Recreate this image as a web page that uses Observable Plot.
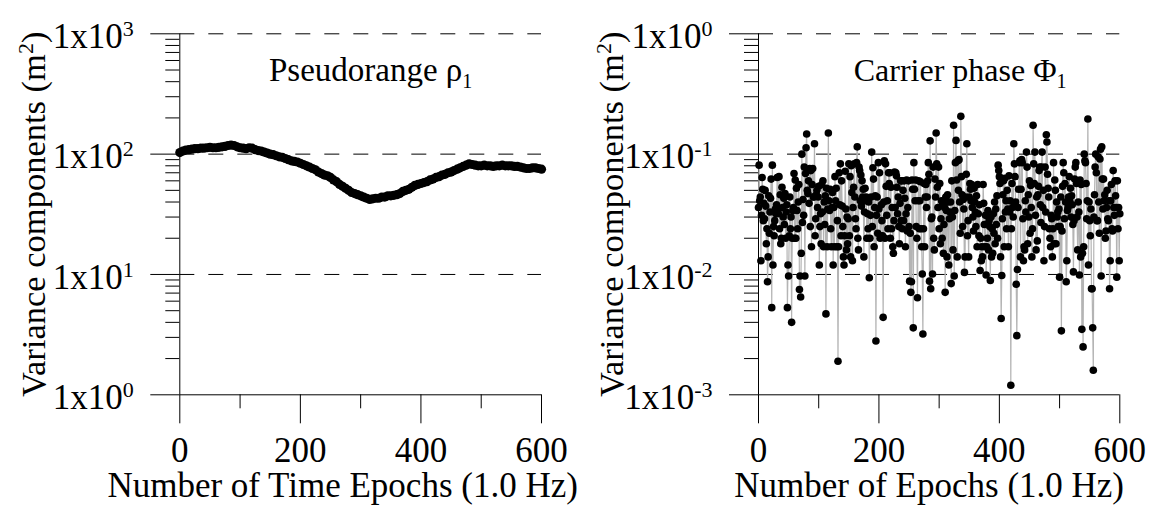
<!DOCTYPE html>
<html><head><meta charset="utf-8">
<script src="https://cdn.jsdelivr.net/npm/d3@7"></script>
<script src="https://cdn.jsdelivr.net/npm/@observablehq/plot@0.6"></script>
<style>
body{margin:0;background:#fff;}
#wrap{display:flex;width:1149px;height:516px;overflow:hidden;background:#fff;}
svg text{font-family:"Liberation Serif","Times New Roman",serif;}
</style></head><body><div id="wrap"></div>
<script>
// Pseudorange variance component, read every 5 epochs (m^2)
const pseudoStep = 5;
const pseudorangeVar = [
103,106,108,109,110,111,111,112,112,113,114,113,113,114,115,116,118,119,118,115,
113,112,111,113,112,109,107,106,104,102,100,99,97,95,94,92,90,88,87,86,
84,82,80,78,76,74,71,69,67,66,64,61,59,56,54,52,50,48,47,46,
45,44,43,42,42.5,43,43,44,44,45,45,45.5,46,47,49,50,51,53,55,56,
57,58,59,61,62,64,65,67,68,70,71,73,75,77,79,81,83,82,81,80,
80,81,80,80,79,80,80,81,80,80,80,79,79,78,77,76,76,77,77,76,
75];
// Carrier phase variance component, one value per epoch (m^2)
const carrierVar = [
0.036,0.081,0.041,0.044,0.013,0.031,0.064,0.051,0.028,0.039,
0.029,0.050,0.037,0.018,0.024,0.0087,0.014,0.045,0.022,0.033,
0.043,0.062,0.0053,0.081,0.012,0.025,0.021,0.028,0.035,0.032,
0.038,0.064,0.034,0.032,0.065,0.024,0.046,0.018,0.020,0.053,
0.036,0.030,0.043,0.026,0.047,0.020,0.033,0.038,0.0053,0.012,
0.0097,0.021,0.044,0.024,0.030,0.0040,0.020,0.034,0.036,0.069,
0.020,0.061,0.020,0.052,0.034,0.024,0.040,0.056,0.0075,0.0097,
0.0065,0.015,0.100,0.027,0.042,0.031,0.078,0.0097,0.069,0.113,
0.147,0.050,0.047,0.060,0.039,0.076,0.025,0.073,0.017,0.056,
0.076,0.044,0.044,0.122,0.021,0.029,0.046,0.050,0.036,0.044,
0.054,0.012,0.025,0.032,0.018,0.056,0.033,0.060,0.017,0.040,
0.026,0.045,0.0047,0.052,0.017,0.035,0.150,0.041,0.034,0.051,
0.024,0.017,0.036,0.048,0.012,0.036,0.017,0.065,0.041,0.052,
0.017,0.028,0.0019,0.017,0.070,0.038,0.083,0.021,0.060,0.037,
0.025,0.014,0.012,0.021,0.072,0.035,0.016,0.030,
0.018,0.029,0.083,0.021,0.065,0.014,0.080,0.048,0.013,0.036,
0.053,0.083,0.044,0.029,0.024,0.085,0.115,0.020,0.016,0.078,
0.073,0.041,0.067,0.037,0.060,0.044,0.051,0.014,0.033,0.052,
0.041,0.044,0.020,0.032,0.024,0.040,0.0094,0.020,0.031,0.044,
0.104,0.025,0.077,0.062,0.017,0.036,0.045,0.0028,0.031,0.044,
0.022,0.085,0.035,0.070,0.020,0.021,0.038,0.028,0.021,0.0044,
0.040,0.088,0.020,0.083,0.054,0.031,0.041,0.024,0.070,0.057,
0.070,0.020,0.053,0.024,0.036,0.017,0.015,0.028,0.071,0.036,
0.070,0.066,0.053,0.032,0.044,0.025,0.018,0.039,0.060,0.028,
0.060,0.024,0.050,0.028,0.060,0.043,0.017,0.032,0.061,0.023,
0.036,0.060,0.025,0.0088,0.022,0.0071,0.0087,0.061,0.051,0.0036,
0.085,0.051,0.041,0.061,0.025,0.020,0.0064,0.041,0.060,0.024,
0.041,0.059,0.024,0.017,0.0101,0.0032,0.024,0.057,0.017,0.044,
0.056,0.036,0.044,0.060,0.085,0.068,0.0088,0.129,0.0076,0.029,
0.030,0.0101,0.078,0.020,0.016,0.062,0.044,0.150,0.083,0.053,
0.036,0.078,0.024,0.057,0.018,0.029,0.041,0.020,0.039,0.015,
0.026,0.036,0.0071,0.044,0.034,0.014,0.046,0.040,0.012,0.029,
0.033,0.040,0.0084,0.060,0.030,0.016,0.174,0.0097,0.034,0.085,
0.130,0.061,0.014,0.088,0.050,0.090,0.040,0.022,0.206,0.065,
0.046,0.025,0.042,0.035,0.0104,0.014,0.044,0.068,0.122,0.021,
0.028,0.014,0.044,0.057,0.051,0.041,0.056,0.036,0.030,0.023,
0.052,0.040,0.033,0.025,0.045,0.017,0.056,0.032,0.021,0.038,
0.0108,0.020,0.013,0.017,0.014,0.056,0.039,0.026,0.017,0.031,
0.0099,0.017,0.020,0.034,0.016,0.028,0.025,0.0089,0.030,0.014,
0.024,0.015,0.032,0.022,0.040,0.018,0.035,0.026,0.045,0.020,
0.081,0.073,0.065,0.057,0.014,0.0043,0.0098,0.029,0.046,0.060,
0.017,0.063,0.033,0.041,0.024,0.050,0.035,0.017,0.066,0.033,
0.041,0.0012,0.024,0.057,0.036,0.030,0.122,0.083,0.065,0.040,
0.0083,0.0031,0.011,0.036,0.051,0.085,0.088,0.014,0.051,0.090,
0.085,0.029,0.013,0.017,0.016,0.041,0.033,0.104,0.078,0.018,
0.046,0.030,0.060,0.022,0.055,
0.036,0.014,0.024,0.174,0.083,0.057,0.104,0.031,0.016,0.044,
0.019,0.046,0.054,0.073,0.078,0.038,0.027,0.078,0.104,0.036,
0.050,0.013,0.025,0.078,0.033,0.145,0.126,0.068,0.052,0.044,
0.024,0.020,0.017,0.031,0.029,0.014,0.024,0.085,0.018,0.061,
0.050,0.018,0.040,0.030,0.033,0.025,0.035,0.0095,0.025,0.044,
0.0034,0.023,0.054,0.085,0.070,0.029,0.057,0.040,0.0087,0.013,
0.034,0.036,0.044,0.065,0.041,0.052,0.030,0.045,0.038,0.026,
0.0105,0.028,0.062,0.078,0.085,0.057,0.030,0.016,0.040,0.033,
0.0099,0.061,0.014,0.056,0.0035,0.015,0.0025,0.017,0.100,0.088,
0.085,0.057,0.029,0.041,0.196,0.012,0.040,0.028,0.021,0.035,
0.0076,0.0076,0.0036,0.0016,0.030,0.046,0.078,0.100,0.070,0.028,
0.028,0.095,0.040,0.022,0.091,0.110,0.0097,0.115,0.062,0.035,
0.062,0.041,0.046,0.020,0.023,0.036,0.050,0.029,0.028,0.041,
0.0076,0.013,0.041,0.056,0.024,0.023,0.073,0.036,0.031,0.060,
0.045,0.036,0.0095,0.060,0.024,0.036,0.013,0.032];

const xTicksMajor = [0, 200, 400, 600];
const xTicksMinor = [100, 300, 500];
const leftDecades = [1, 10, 100, 1000];
const leftExponents = ["0", "1", "2", "3"];
const rightDecades = [0.001, 0.01, 0.1, 1];
const rightExponents = ["-3", "-2", "-1", "0"];
const leftTitle = "Pseudorange ρ_{1}";
const rightTitle = "Carrier phase Φ_{1}";
const yLabel = "Variance components (m^{2})";
const leftXLabel = "Number of Time Epochs (1.0 Hz)";
const rightXLabel = "Number of Epochs (1.0 Hz)";

const leftData = pseudorangeVar.map((v, i) => ({epoch: i * pseudoStep, v}));
const rightData = carrierVar.map((v, i) => ({epoch: i, v}));

function minorTicks(decades) {
  const out = [];
  for (let i = 0; i < decades.length - 1; i++)
    for (let k = 2; k <= 9; k++) out.push(decades[i] * k);
  return out;
}

// turn ^{..} / _{..} into raised / lowered tspans
function scripts(svg) {
  d3.select(svg).selectAll("text").each(function() {
    const s = this.textContent;
    if (!/[\^_]\{/.test(s)) return;
    const parts = s.split(/([\^_]\{[^}]*\})/).filter(p => p !== "");
    const sel = d3.select(this);
    sel.text(null);
    let shift = 0;
    for (const p of parts) {
      const m = p.match(/^([\^_])\{(.*)\}$/);
      const t = sel.append("tspan");
      if (m) {
        const d = m[1] === "^" ? -12 : 7;
        t.attr("dy", d - shift).attr("font-size", m[1] === "^" ? 22 : 20).text(m[2]);
        shift = d;
      } else {
        if (shift) t.attr("dy", -shift);
        shift = 0;
        t.text(p);
      }
    }
  });
}

const H = 516, MT = 33.3, MB = 121.7;

function panel(o) {
  const fw = o.width - o.marginLeft - o.marginRight;
  const fh = H - MT - MB;
  const fmt = d => "1x10^{" + o.exps[o.decades.indexOf(d)] + "}";
  const svg = Plot.plot({
    width: o.width, height: H,
    marginLeft: o.marginLeft, marginRight: o.marginRight,
    marginTop: MT, marginBottom: MB,
    style: {fontFamily: "Liberation Serif", fontSize: "35px", background: "transparent", color: "#000", overflow: "visible"},
    x: {domain: [0, 600], axis: null},
    y: {type: "log", domain: [o.decades[0], o.decades[o.decades.length - 1]], axis: null},
    marks: [
      Plot.ruleY(o.decades.slice(1), {stroke: "#000", strokeWidth: 1, strokeDasharray: "15,14"}),
      Plot.tickY(minorTicks(o.decades), {y: d => d, stroke: "#000", insetLeft: -14, insetRight: fw}),
      Plot.tickY(o.decades, {y: d => d, stroke: "#000", insetLeft: -29, insetRight: fw}),
      Plot.text(o.decades, {y: d => d, text: fmt, frameAnchor: "left", textAnchor: "end", dx: -46, dy: 3, fontSize: 35}),
      Plot.tickX(xTicksMinor, {x: d => d, stroke: "#000", insetTop: fh, insetBottom: -14}),
      Plot.tickX(xTicksMajor, {x: d => d, stroke: "#000", insetTop: fh, insetBottom: -29}),
      Plot.text(xTicksMajor, {x: d => d, text: d => String(d), frameAnchor: "bottom", lineAnchor: "top", dy: 42, fontSize: 35}),
      Plot.ruleX([0], {stroke: "#000"}),
      Plot.ruleY([o.decades[0]], {stroke: "#000"}),
      o.connect ? Plot.line(o.data, {x: "epoch", y: "v", stroke: "#b4b4b4", strokeWidth: 1.2}) : null,
      Plot.dot(o.data, {x: "epoch", y: "v", r: o.r, fill: "#000", stroke: "none"}),
      Plot.text([o.title], {frameAnchor: "top", dx: o.titleDx, dy: 47, lineAnchor: "bottom", fontSize: o.titleSize}),
      Plot.text([yLabel], {frameAnchor: "left", textAnchor: "middle", rotate: -90, dx: o.yLabelDx, fontSize: 34.5}),
      Plot.text([o.xLabel], {frameAnchor: "bottom", textAnchor: "middle", dx: o.xLabelDx, dy: 102, lineAnchor: "bottom", fontSize: 35})
    ]
  });
  scripts(svg);
  return svg;
}

const wrap = document.getElementById("wrap");
wrap.appendChild(panel({
  width: 575, marginLeft: 179.3, marginRight: 34,
  data: leftData, decades: leftDecades, exps: leftExponents,
  title: leftTitle, titleDx: 10, titleSize: 33, xLabel: leftXLabel, xLabelDx: -18,
  yLabelDx: -146, connect: false, r: 4.6
}));
wrap.appendChild(panel({
  width: 574, marginLeft: 183, marginRight: 29.7,
  data: rightData, decades: rightDecades, exps: rightExponents,
  title: rightTitle, titleDx: 21, titleSize: 32, xLabel: rightXLabel, xLabelDx: -10,
  yLabelDx: -147, connect: true, r: 3.8
}));
</script></body></html>
